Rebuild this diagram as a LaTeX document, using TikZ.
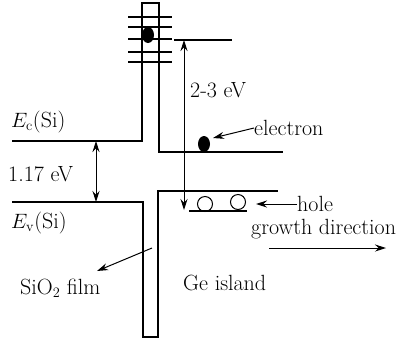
\documentclass[tikz,border=0pt]{standalone}
\usetikzlibrary{arrows.meta}
\begin{document}
\begin{tikzpicture}[x=1pt,y=-1pt,
  band/.style={line width=1.3pt},
  arr/.style={line width=1pt,-{Stealth[length=11pt,width=7pt]}},
  darr/.style={line width=1pt,{Stealth[length=11pt,width=7pt]}-{Stealth[length=11pt,width=7pt]}},
  lbl/.style={font=\fontsize{22}{25}\selectfont,inner sep=0pt}]
\useasboundingbox (0,0) rectangle (403,341);
% upper barrier and Si conduction band
\draw[band] (12,141) -- (142,141) -- (142,3) -- (159,3) -- (159,152) -- (283,152);
% lower barrier and valence band
\draw[band] (12,202) -- (143,202) -- (143,337) -- (158,337) -- (158,191) -- (278,191);
% quantized levels
\foreach \yy in {17,27,39,52,62} \draw[band] (128,\yy) -- (172,\yy);
\fill (148,35) ellipse (6pt and 8pt);
\draw[band] (174,40) -- (232,40);
\coordinate (t) at (184,40); \coordinate (b) at (184,210);
\draw[darr] (t) -- (b);
\node[lbl,anchor=west] (gap) at (190,90) {2-3 eV};
% electron
\fill (204,144) ellipse (6pt and 8pt);
\node[lbl,anchor=west] (el) at (254,128) {electron};
\draw[arr] (el.west) -- (213,138);
% holes
\draw[line width=1pt] (205,204) circle (7.5pt);
\draw[line width=1pt] (238,202) circle (7.5pt);
\draw[band] (189,211) -- (247,211);
\node[lbl,anchor=west] (ho) at (297,204) {hole};
\draw[arr] (ho.west) -- (256,204);
% growth direction
\node[lbl,anchor=west] (gd) at (251,229) {growth direction};
\coordinate (g1) at (269,248); \coordinate (g2) at (386,248);
\draw[arr] (g1) -- (g2);
% Si labels
\node[lbl,anchor=west] (ec) at (11,122) {$E_{\mathrm{c}}$(Si)};
\node[lbl,anchor=west] (ev) at (11,223) {$E_{\mathrm{v}}$(Si)};
\node[lbl,anchor=west] (gsi) at (8,174) {1.17 eV};
\coordinate (s1) at (96,141); \coordinate (s2) at (96,202);
\draw[darr] (s1) -- (s2);
% SiO2 film
\node[lbl,anchor=west] (ox) at (20,288) {SiO$_2$ film};
\coordinate (o1) at (152,248);
\draw[arr] (o1) -- (97,271);
\node[lbl,anchor=west] (ge) at (183,283) {Ge island};
\end{tikzpicture}
\end{document}
